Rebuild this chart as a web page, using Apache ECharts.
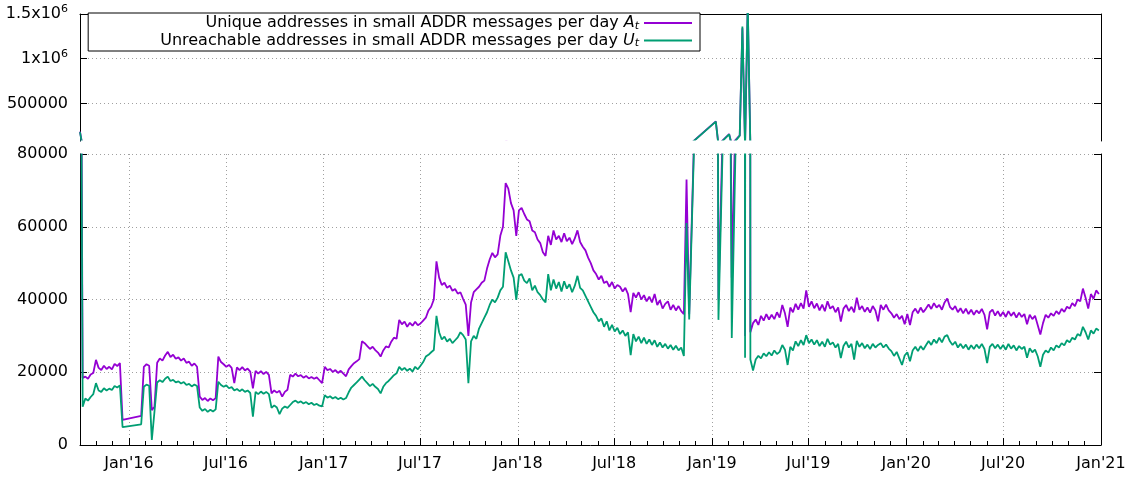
<!DOCTYPE html>
<html>
<head>
<meta charset="utf-8">
<script src="https://cdn.jsdelivr.net/npm/echarts@6/dist/echarts.min.js"></script>
<style>
  html, body { margin: 0; padding: 0; background: #fff; }
  #chart { width: 1129px; height: 477px; }
</style>
</head>
<body>
<div id="chart"></div>
<script>
// one sample every 5 days starting 2015-10-01, values in thousands, null = no data
var startDate = Date.UTC(2015, 9, 1);
var stepDays = 5;

var uniqueK = [
  185, 18.4, 18.8, 18.2, 19.4, 19.8, 23.4, 21.2, 20.6, 21.8,
  20.9, 21.5, 20.8, 22.3, 21.7, 22.5, 6.9, null, null, null,
  null, null, null, 8.0, 21.5, 22.2, 21.8, 9.6, 10.5, 22.6,
  23.8, 23.2, 24.6, 25.6, 24.2, 24.8, 23.7, 24.1, 23.2, 23.8,
  22.6, 22.9, 21.8, 22.4, 21.5, 13.3, 12.4, 12.9, 12.1, 12.8,
  12.3, 12.9, 24.3, 22.8, 22.2, 21.5, 22.0, 21.2, 17.0, 21.3,
  20.6, 21.4, 20.5, 21.0, 20.2, 15.6, 20.4, 19.6, 20.3, 19.5,
  20.1, 19.3, 14.2, 15.0, 14.4, 14.9, 13.3, 14.6, 15.2, 19.3,
  18.8, 19.6, 18.9, 19.2, 18.5, 19.0, 18.3, 18.7, 18.2, 18.6,
  17.8, 17.0, 21.5, 20.6, 20.9, 20.1, 20.6, 19.8, 20.4, 19.6,
  18.9, 20.8, 21.7, 22.5, 23.0, 23.6, 28.5, 28.0, 27.2, 26.4,
  27.0, 26.1, 25.4, 24.3, 26.0, 27.1, 26.8, 28.4, 29.5, 29.2,
  34.4, 33.2, 33.9, 32.5, 33.6, 32.8, 33.9, 32.9, 33.4, 34.2,
  35.0, 37.0, 38.0, 40.0, 50.5, 46.0, 44.0, 44.6, 43.2, 43.8,
  42.4, 42.9, 41.6, 42.0, 40.2, 38.6, 30.0, 39.2, 42.0, 42.8,
  43.5, 44.6, 45.2, 48.5, 51.0, 52.8, 51.6, 52.4, 57.5, 60.0,
  72.0, 70.5, 66.5, 64.5, 57.5, 64.5, 65.2, 63.5, 62.0, 61.5,
  59.0, 58.5, 56.5, 55.5, 53.0, 52.0, 57.5, 55.0, 59.0, 56.5,
  57.5, 55.8, 58.2, 56.0, 57.0, 55.2, 56.8, 59.0, 55.8, 54.5,
  53.5, 51.5, 50.0, 48.0, 47.0, 45.5, 46.5, 44.5, 45.0, 43.5,
  44.8, 43.0, 44.0, 43.5, 42.2, 43.2, 41.5, 36.5, 41.8, 40.5,
  42.0, 40.0, 41.2, 39.5, 40.8, 39.2, 41.5, 38.5, 39.8, 37.5,
  38.8, 39.5, 37.2, 38.5, 37.0, 38.2, 36.8, 36.0, 73.0, 36.0,
  null, null, null, null, null, null, null, null, null, 300,
  40, null, null, null, 158, 46, null, null, 143, 1340,
  30, 1600, 31.0, 33.5, 34.5, 33.0, 35.5, 34.2, 36.0, 34.5,
  35.8, 34.6, 36.5, 35.0, 38.5, 36.2, 32.5, 37.8, 36.5, 38.8,
  37.2, 39.0, 37.5, 42.5, 38.0, 39.5, 37.6, 38.9, 37.0, 38.6,
  36.8, 39.5, 37.5, 38.2, 36.5, 37.8, 33.9, 37.5, 38.5, 36.8,
  38.0, 36.5, 40.5, 37.2, 38.2, 36.6, 37.8, 36.4, 38.2, 37.0,
  34.0, 38.5, 37.2, 38.6, 37.0, 36.2, 35.0, 36.0, 34.6, 35.5,
  33.2, 36.0, 33.0, 36.5, 37.5, 36.2, 37.8, 36.5, 37.5, 38.6,
  37.4, 39.0, 37.8, 38.5, 37.2, 39.2, 40.3, 38.0, 37.2, 38.2,
  36.5, 37.6, 36.2, 37.5, 36.0, 37.2, 35.8, 37.0, 36.2, 37.4,
  35.8, 31.8, 36.5, 37.2, 35.6, 36.8, 35.4, 36.6, 35.2, 36.8,
  35.5, 36.5, 35.0, 36.4, 35.2, 36.0, 33.2, 35.8, 34.6, 35.5,
  33.0, 30.4, 33.5, 35.8, 35.0, 36.2, 35.5, 36.8, 36.0, 37.4,
  36.6, 38.0, 37.5, 39.0, 38.2, 40.0, 39.5, 43.0, 40.5, 37.5,
  41.5, 40.2, 42.5, 41.5
];

var unreachK = [
  180, 10.5, 12.8, 12.2, 13.2, 14.0, 17.0, 15.0, 14.6, 15.6,
  15.0, 15.5, 15.1, 16.2, 15.8, 16.4, 4.9, null, null, null,
  null, null, null, 5.7, 16.0, 16.6, 16.3, 1.4, 9.2, 17.2,
  17.8, 17.3, 18.2, 18.8, 17.6, 17.9, 17.2, 17.5, 16.9, 17.3,
  16.5, 16.8, 16.1, 16.6, 16.2, 10.3, 9.4, 9.9, 9.1, 9.7,
  9.2, 9.8, 17.4, 16.5, 16.0, 16.4, 15.6, 15.9, 15.0, 15.4,
  14.8, 15.3, 14.6, 15.0, 14.3, 7.8, 14.6, 14.0, 14.7, 14.1,
  14.6, 14.0, 10.2, 10.9, 10.3, 8.5, 10.0, 10.6, 10.2, 11.0,
  11.8, 12.2, 11.6, 12.0, 11.4, 11.8, 11.2, 11.6, 11.0, 11.3,
  10.8, 10.6, 13.7, 13.0, 13.4, 12.8, 13.2, 12.6, 13.0, 12.5,
  12.9, 14.5, 15.8, 16.5, 17.2, 18.0, 18.8, 17.8, 17.0, 16.2,
  16.8, 16.0, 15.4, 14.2, 16.0, 17.0, 17.6, 18.4, 19.2, 19.7,
  21.5, 20.6, 21.2, 20.4, 21.0, 20.2, 21.5, 20.8, 21.8, 22.8,
  24.3, 24.8, 25.5, 26.1, 35.5, 31.0, 29.0, 29.8, 28.4, 29.2,
  28.0, 28.8, 29.6, 31.0, 30.2, 29.0, 17.0, 28.5, 30.0, 29.2,
  32.0, 33.5, 35.0, 36.5, 38.5, 40.0, 39.2, 40.5, 42.5, 43.5,
  53.0, 50.5, 48.0, 46.0, 39.9, 46.5, 47.0, 45.2, 44.5, 45.8,
  42.5, 43.8, 42.0, 41.2, 40.0, 39.2, 47.0, 42.5, 45.5, 43.0,
  44.8, 42.2, 45.0, 43.0, 44.2, 42.0, 43.8, 46.5, 43.2, 42.5,
  41.0, 39.5, 38.0, 36.5, 35.5, 34.0, 34.8, 32.5, 34.0, 31.5,
  33.0, 31.2, 32.2, 30.5, 31.5, 30.0, 31.0, 24.7, 30.5, 28.5,
  29.8, 28.0, 29.5, 27.8, 29.0, 27.5, 28.8, 27.0, 28.2, 26.8,
  27.8, 26.5, 27.5, 26.2, 27.3, 26.0, 26.8, 24.5, 61, 34.5,
  null, null, null, null, null, null, null, null, null, 296,
  34.4, null, null, null, 155, 29.4, null, null, 140, 1360,
  24, 1620, 23.5, 20.5, 23.5, 24.5, 23.8, 25.2, 24.4, 25.5,
  24.6, 26.0, 25.0, 25.6, 27.5, 26.2, 22.0, 27.0, 26.0, 28.5,
  27.2, 28.8, 27.5, 30.2, 28.0, 29.0, 27.6, 28.8, 27.2, 28.4,
  27.0, 29.2, 27.6, 28.2, 26.8, 27.8, 23.9, 27.2, 28.4, 26.8,
  27.8, 23.5, 28.6, 27.0, 28.0, 26.6, 27.6, 26.4, 27.8, 26.8,
  27.5, 28.0, 26.8, 27.6, 26.5, 25.8, 24.5, 25.6, 23.8, 22.0,
  24.6, 25.5, 23.0, 26.0, 27.0, 25.8, 27.2, 26.2, 27.4, 28.6,
  27.5, 29.0, 28.0, 29.5, 28.2, 29.8, 30.2, 28.5, 27.5, 28.4,
  26.8, 27.8, 26.6, 27.6, 26.2, 27.4, 26.4, 27.6, 26.6, 27.8,
  26.4, 22.5, 27.0, 27.8, 26.6, 27.6, 26.4, 27.5, 26.2, 27.8,
  26.5, 27.4, 26.0, 27.2, 26.4, 27.0, 24.0, 26.6, 25.5, 26.2,
  24.4, 21.5, 24.8, 26.0, 25.4, 26.8, 26.0, 27.4, 26.8, 28.0,
  27.4, 28.8, 28.2, 29.5, 29.0, 30.5, 30.0, 32.5, 31.0, 29.0,
  31.5, 30.6, 32.0, 31.5
];

var seriesNames = [
  'Unique addresses in small ADDR messages per day',
  'Unreachable addresses in small ADDR messages per day'
];
var seriesSymbols = ['A', 'U'];
var seriesColors = ['#9400d3', '#009e73'];

var xTickMonths = [[2016, 0], [2016, 6], [2017, 0], [2017, 6], [2018, 0], [2018, 6],
                   [2019, 0], [2019, 6], [2020, 0], [2020, 6], [2021, 0]];
var xTickLabels = ["Jan'16", "Jul'16", "Jan'17", "Jul'17", "Jan'18", "Jul'18",
                   "Jan'19", "Jul'19", "Jan'20", "Jul'20", "Jan'21"];
var topTicks = [500000, 1000000, 1500000];
var topTickLabels = ['500000', '1x10^6', '1.5x10^6'];
var bottomTicks = [0, 20000, 40000, 60000, 80000];

var DAY = 24 * 3600 * 1000;
var xMin = Date.UTC(2015, 9, 1);
var xMax = Date.UTC(2021, 0, 1);
var xTickValues = xTickMonths.map(function (m) { return Date.UTC(m[0], m[1], 1); });
var monthValues = [];
for (var k = 1; k < 63; k++) {
  monthValues.push(Date.UTC(2015, 9 + k, 1));
}

function toPairs(arr) {
  return arr.map(function (v, i) {
    return [startDate + i * stepDays * DAY, v == null ? '-' : v * 1000];
  });
}
var uniqueData = toPairs(uniqueK);
var unreachData = toPairs(unreachK);

var FONT = 'DejaVu Sans';
var black = { color: '#000', width: 1 };
var dotted = { color: '#a0a0a0', width: 1, type: [1, 3] };

function line(idx, data, xi, yi) {
  return {
    name: seriesNames[idx],
    type: 'line',
    xAxisIndex: xi,
    yAxisIndex: yi,
    data: data,
    symbol: 'none',
    connectNulls: true,
    z: 2 + idx,
    lineStyle: { width: 1.8, color: seriesColors[idx] },
    itemStyle: { color: seriesColors[idx] }
  };
}

function yAxisPair(grid, min, max, ticks, withLabels) {
  var common = {
    gridIndex: grid, type: 'value', min: min, max: max,
    axisLine: { show: true, onZero: false, lineStyle: black },
    axisTick: { show: true, inside: true, length: 7, customValues: ticks, lineStyle: black }
  };
  var left = Object.assign({}, common, {
    position: 'left',
    axisLabel: {
      show: true, customValues: ticks, margin: 12,
      fontFamily: FONT, fontSize: 16, color: '#000',
      formatter: withLabels,
      rich: {
        m: { fontFamily: FONT, fontSize: 16, color: '#000' },
        p: { fontFamily: FONT, fontSize: 11, color: '#000', padding: [0, 0, 9, 0] }
      }
    },
    splitLine: { show: true, lineStyle: dotted }
  });
  var right = Object.assign({}, common, {
    position: 'right',
    axisLabel: { show: false },
    splitLine: { show: false }
  });
  return [left, right];
}

var topAxes = yAxisPair(0, 80000, 1500000, topTicks, function (v) {
  var s = topTickLabels[topTicks.indexOf(v)] || '';
  var parts = s.split('^');
  return parts.length > 1 ? '{m|' + parts[0] + '}{p|' + parts[1] + '}' : s;
});
var bottomAxes = yAxisPair(1, 0, 80000, bottomTicks, function (v) { return String(v); });

var chart = echarts.init(document.getElementById('chart'));
chart.setOption({
  animation: false,
  backgroundColor: '#fff',
  grid: [
    { left: 80, right: 28, top: 14, height: 127, outerBoundsMode: 'none' },
    { left: 80, right: 28, top: 154, height: 291, outerBoundsMode: 'none' }
  ],
  // blank band between the two panels of the broken axis
  graphic: [{
    type: 'rect', z: 100, silent: true,
    shape: { x: 81, y: 140.6, width: 1019, height: 12.9 },
    style: { fill: '#fff' }
  }],
  legend: {
    data: seriesNames,
    orient: 'vertical',
    right: 429,
    top: 13,
    align: 'right',
    icon: 'rect',
    itemWidth: 48,
    itemHeight: 2,
    itemGap: 1,
    padding: [2, 8, 2, 72],
    borderColor: '#000',
    borderWidth: 1,
    backgroundColor: '#fff',
    selectedMode: false,
    formatter: function (name) {
      var k = seriesNames.indexOf(name);
      return name + ' {i|' + seriesSymbols[k] + '}{s|t}';
    },
    textStyle: {
      fontFamily: FONT, fontSize: 16, color: '#000',
      rich: {
        i: { fontFamily: FONT, fontSize: 16, fontStyle: 'italic', color: '#000' },
        s: { fontFamily: FONT, fontSize: 11, fontStyle: 'italic', color: '#000', padding: [6, 0, 0, 0] }
      }
    }
  },
  xAxis: [
    {
      gridIndex: 0, type: 'value', min: xMin, max: xMax, position: 'top',
      axisLine: { show: true, onZero: false, lineStyle: black },
      axisTick: { show: false }, axisLabel: { show: false }, splitLine: { show: false }
    },
    {
      gridIndex: 1, type: 'value', min: xMin, max: xMax, position: 'bottom',
      axisLine: { show: true, onZero: false, lineStyle: black },
      axisTick: { show: true, inside: true, length: 7, customValues: xTickValues, lineStyle: black },
      axisLabel: {
        show: true, customValues: xTickValues, margin: 11,
        fontFamily: FONT, fontSize: 16, color: '#000',
        formatter: function (v) { return xTickLabels[xTickValues.indexOf(v)] || ''; }
      },
      splitLine: { show: true, lineStyle: dotted }
    },
    {
      gridIndex: 1, type: 'value', min: xMin, max: xMax, position: 'bottom',
      axisLine: { show: false, onZero: false },
      axisTick: { show: true, inside: true, length: 4, customValues: monthValues, lineStyle: black },
      axisLabel: { show: false }, splitLine: { show: false }
    }
  ],
  yAxis: [topAxes[0], topAxes[1], bottomAxes[0], bottomAxes[1]],
  series: [
    line(0, uniqueData, 0, 0),
    line(1, unreachData, 0, 0),
    line(0, uniqueData, 1, 2),
    line(1, unreachData, 1, 2)
  ]
});
</script>
</body>
</html>
